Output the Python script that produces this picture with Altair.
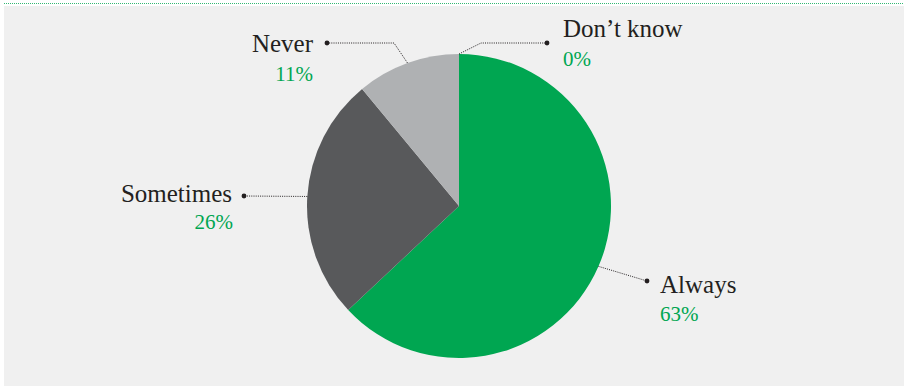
import altair as alt
import numpy as np
import pandas as pd

# ---- data ----
categories = ["Always", "Sometimes", "Never", "Don’t know"]
values = [63, 26, 11, 0]
pct_labels = ["63%", "26%", "11%", "0%"]
slice_colors = ["#00a651", "#58595b", "#afb1b3", "#afb1b3"]

# ---- layout (pixels, relative to pie centre, y up) ----
W, H = 904, 386
CX, CY = 459, 206
R = 152
# label layout: side, elbow (or None), dot, name anchor, pct anchor
label_layout = {
    "Always":     dict(side="left",  elbow=None,       dot=(188, -75), name=(201, -87), pct=(201, -115)),
    "Sometimes":  dict(side="right", elbow=None,       dot=(-215, 10), name=(-227, 4),  pct=(-226, -23)),
    "Never":      dict(side="right", elbow=(-65, 163), dot=(-132, 163), name=(-146, 154), pct=(-146, 125)),
    "Don’t know": dict(side="left",  elbow=(22, 163),  dot=(88, 163),  name=(104, 169), pct=(104, 140)),
}

GREEN = "#00a651"
FONT = "Liberation Serif"

xscale = alt.Scale(domain=[-CX, W - CX], range=[0, W], nice=False, zero=False)
yscale = alt.Scale(domain=[CY - H, CY], range=[H, 0], nice=False, zero=False)

pie_df = pd.DataFrame({
    "category": categories,
    "value": values,
    "order": list(range(len(categories))),
})

# slice mid-angles -> edge points for leader lines
tot = float(sum(values))
cum = np.concatenate([[0.0], np.cumsum(values)])
mids = (cum[:-1] + cum[1:]) / 2.0 / tot * 2 * np.pi
edge = {c: (R * np.sin(a), R * np.cos(a)) for c, a in zip(categories, mids)}

line_rows, dot_rows, text_rows = [], [], []
for c, p in zip(categories, pct_labels):
    L = label_layout[c]
    pts = [edge[c]] + ([L["elbow"]] if L["elbow"] else []) + [L["dot"]]
    for i, (px, py) in enumerate(pts):
        line_rows.append({"category": c, "i": i, "x": px, "y": py})
    dot_rows.append({"category": c, "x": L["dot"][0], "y": L["dot"][1]})
    text_rows.append({"category": c, "side": L["side"], "kind": "name", "text": c,
                      "x": L["name"][0], "y": L["name"][1]})
    text_rows.append({"category": c, "side": L["side"], "kind": "pct", "text": p,
                      "x": L["pct"][0], "y": L["pct"][1]})

line_df = pd.DataFrame(line_rows)
dot_df = pd.DataFrame(dot_rows)
text_df = pd.DataFrame(text_rows)

one = pd.DataFrame({"a": [0]})

bg = alt.Chart(one).mark_rect(color="#f0f0f0").encode(
    x=alt.value(4), x2=alt.value(W), y=alt.value(6), y2=alt.value(H)
)
top_rule = alt.Chart(one).mark_rule(color="#00a651", strokeDash=[1, 1], strokeWidth=1, opacity=0.8).encode(
    x=alt.value(4), x2=alt.value(W), y=alt.value(3.5)
)

pie = alt.Chart(pie_df).mark_arc(radius=R).encode(
    theta=alt.Theta("value:Q", stack=True),
    order=alt.Order("order:Q"),
    color=alt.Color("category:N", scale=alt.Scale(domain=categories, range=slice_colors), legend=None),
    x=alt.X(datum=0, scale=xscale, axis=None),
    y=alt.Y(datum=0, scale=yscale, axis=None),
)

lines = alt.Chart(line_df).mark_line(color="#231f20", strokeDash=[1, 1.2], strokeWidth=1).encode(
    x=alt.X("x:Q", scale=xscale, axis=None),
    y=alt.Y("y:Q", scale=yscale, axis=None),
    detail="category:N",
    order="i:Q",
)

dots = alt.Chart(dot_df).mark_circle(color="#231f20", size=24, opacity=1).encode(
    x=alt.X("x:Q", scale=xscale, axis=None),
    y=alt.Y("y:Q", scale=yscale, axis=None),
)

def text_layer(side, kind, color, size):
    return alt.Chart(text_df).transform_filter(
        (alt.datum.side == side) & (alt.datum.kind == kind)
    ).mark_text(align=side, baseline="alphabetic", font=FONT, fontSize=size, color=color).encode(
        x=alt.X("x:Q", scale=xscale, axis=None),
        y=alt.Y("y:Q", scale=yscale, axis=None),
        text="text:N",
    )

texts = [
    text_layer("left", "name", "#231f20", 25),
    text_layer("right", "name", "#231f20", 25),
    text_layer("left", "pct", GREEN, 21),
    text_layer("right", "pct", GREEN, 21),
]

chart = alt.layer(bg, top_rule, pie, lines, dots, *texts).properties(
    width=W, height=H, padding=0, autosize=alt.AutoSizeParams(type="none"),
    background="white",
).configure_view(stroke=None)

chart.save("out.html", embed_options={"renderer": "svg", "actions": False})
